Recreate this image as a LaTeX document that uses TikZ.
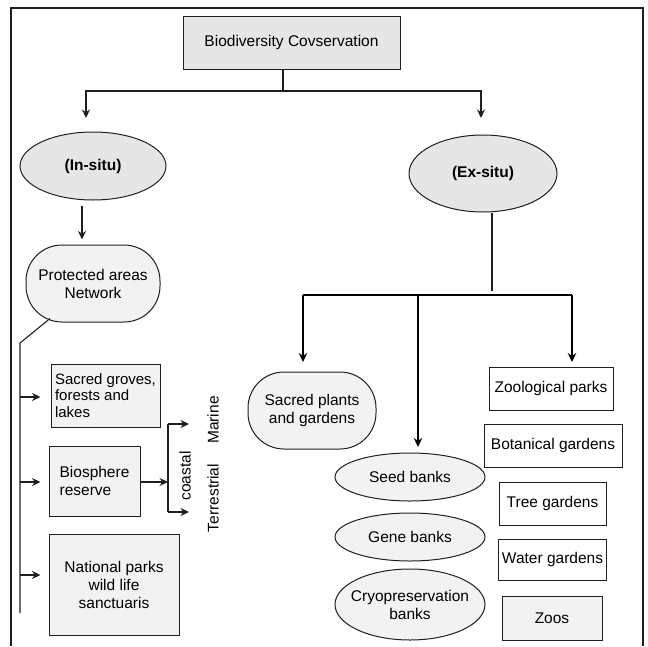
\documentclass[tikz,border=0pt]{standalone}
\usepackage{fontspec}
\setmainfont{Liberation Sans}
\usetikzlibrary{arrows.meta,shapes.geometric}
\definecolor{linecolor}{HTML}{1F1F1F}
\definecolor{greyfill}{HTML}{E6E6E6}
\definecolor{lightfill}{HTML}{F2F2F2}
\newcommand{\diagfont}{\fontsize{15.5}{18}\selectfont}
\tikzset{
  base/.style={
    draw=linecolor,
    line width=1pt,
    align=center,
    inner sep=3pt,
    font=\diagfont,
    text=black
  },
  titlebox/.style={base, fill=greyfill, minimum width=217pt, minimum height=53pt},
  situ/.style={base, ellipse, fill=greyfill, font=\diagfont\bfseries},
  pill/.style={base, rounded corners=36pt, fill=lightfill},
  leftbox/.style={base, fill=lightfill},
  bank/.style={base, ellipse, fill=lightfill, minimum width=150pt},
  garden/.style={base, fill=white, minimum height=43pt},
  line/.style={draw=linecolor, line width=1.1pt},
  arrow/.style={line, -{Stealth[length=8.5pt,width=8pt]}},
  bus/.style={draw=black, line width=1.6pt},
  busarrow/.style={bus, -{Stealth[length=9pt,width=8.5pt]}},
  sidelabel/.style={font=\diagfont, rotate=90, inner sep=0pt}
}

\begin{document}
\begin{tikzpicture}[x=1pt,y=-1pt]
  \useasboundingbox (0,0) rectangle (648,646);
  \draw[line] (11,646) -- (11,8) -- (643,8) -- (643,646);

  % Top level.
  \node[titlebox] (title) at (291.5,42.5) {Biodiversity Covservation};
  \node[situ, minimum width=146pt, minimum height=68pt] (insitu) at (93,166) {(In-situ)};
  \node[situ, minimum width=148pt, minimum height=77pt] (exsitu) at (483,173.5) {(Ex-situ)};

  % In-situ side.
  \node[pill, minimum width=134pt, minimum height=77pt] (protected) at (93,283.5)
    {Protected areas\\ Network};
  \node[leftbox, align=left, minimum width=109pt, minimum height=63pt, font=\fontsize{15}{16.7}\selectfont] (groves) at (105.5,395.5)
    {Sacred groves,\\ forests and\\ lakes};
  \node[leftbox, align=left, minimum width=91pt, minimum height=70pt] (biosphere) at (94.5,481)
    {Biosphere\\ reserve};
  \node[leftbox, minimum width=130pt, minimum height=101pt] (national) at (114,584.5)
    {National parks\\ wild life\\ sanctuaris};

  \node[sidelabel] (coastal) at (185,476) {coastal};
  \node[sidelabel] (marine) at (213,420) {Marine};
  \node[sidelabel] (terrestrial) at (213,498) {Terrestrial};

  % Ex-situ side.
  \node[pill, minimum width=128pt, minimum height=77pt] (plants) at (312,410.5)
    {Sacred plants\\ and gardens};
  \node[bank, minimum height=48pt] (seed) at (410,477) {Seed banks};
  \node[bank, minimum height=48pt] (gene) at (410,537) {Gene banks};
  \node[bank, minimum height=71pt, inner xsep=-14pt] (cryo) at (410,604.5)
    {Cryopreservation\\ banks};

  \node[garden, minimum width=124pt] (zoological) at (551,388.5) {Zoological parks};
  \node[garden, minimum width=138pt] (botanical) at (553,445.5) {Botanical gardens};
  \node[garden, minimum width=107pt] (tree) at (552.5,503.5) {Tree gardens};
  \node[garden, minimum width=107pt, minimum height=41pt] (water) at (552.5,559.5) {Water gardens};
  \node[garden, fill=lightfill, minimum width=100pt, minimum height=44pt] (zoos) at (552,618) {Zoos};

  % Top split.
  \coordinate (topbus) at (283,91);
  \coordinate (inend) at (86,118);
  \coordinate (exend) at (481,118);
  \draw[line] (title.south -| topbus) -- (topbus);
  \draw[arrow] (topbus) -| (inend);
  \draw[arrow] (topbus) -| (exend);

  % In-situ arrows.
  \draw[arrow] ([shift={(-11,5)}]insitu.south) -- ([shift={(-11,-5)}]protected.north);
  \coordinate (spinetop) at (20,343);
  \coordinate (spinebot) at (20,613);
  \draw[line] ([shift={(-43,-4)}]protected.south) -- (spinetop) -- (spinebot);
  \coordinate (grovesin) at ([xshift=-10pt,yshift=-1.5pt]groves.west);
  \coordinate (bioin) at ([xshift=-8pt,yshift=-1pt]biosphere.west);
  \coordinate (natin) at ([xshift=-8pt,yshift=9.5pt]national.west);
  \draw[arrow] (spinetop |- grovesin) -- (grovesin);
  \draw[arrow] (spinetop |- bioin) -- (bioin);
  \draw[arrow] (spinetop |- natin) -- (natin);

  \coordinate (bracket) at (168,482);
  \coordinate (marend) at (189,424);
  \coordinate (terend) at (189,512);
  \draw[arrow] (biosphere.east |- bracket) -- (bracket);
  \draw[line] (bracket |- marend) -- (bracket |- terend);
  \draw[arrow] (bracket |- marend) -- (marend);
  \draw[arrow] (bracket |- terend) -- (terend);

  % Ex-situ branches.
  \coordinate (exdrop) at (492,291);
  \coordinate (busL) at (303,295);
  \coordinate (busM) at (418,295);
  \coordinate (busR) at (572,295);
  \coordinate (plantsin) at (303,362);
  \coordinate (seedin) at (418,447);
  \coordinate (zooin) at (572,362);
  \draw[line] (exsitu.south -| exdrop) -- (exdrop);
  \draw[bus] (busL) -- (busR);
  \draw[busarrow] (busL) -- (plantsin);
  \draw[busarrow] (busM) -- (seedin);
  \draw[busarrow] (busR) -- (zooin);

\end{tikzpicture}
\end{document}
